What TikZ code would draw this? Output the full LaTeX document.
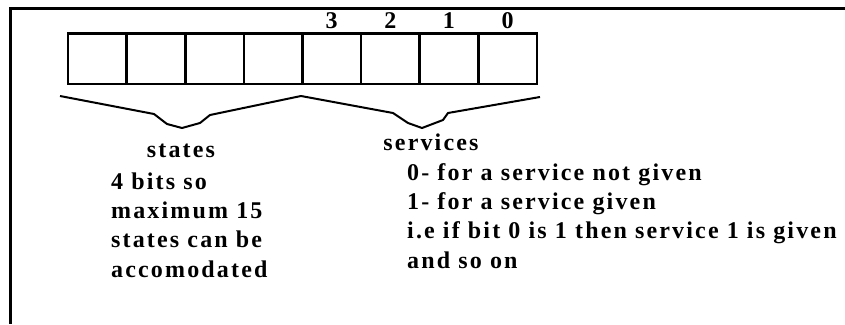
\documentclass[tikz,border=0pt]{standalone}
\usepackage{fontspec}
\setmainfont{Liberation Serif}[LetterSpace=9]
\usetikzlibrary{positioning}

\begin{document}
\begin{tikzpicture}[x=1pt,y=-1pt,node distance=58.6pt,
                    font=\fontsize{24}{29.3}\selectfont\bfseries,
                    bit/.style={draw,line width=2.6pt,minimum width=58.6pt,
                                minimum height=50.5pt,inner sep=0pt,outer sep=0pt},
                    brace/.style={line width=2pt,line join=round}]
  \useasboundingbox (0,0) rectangle (845,324);
  \draw[line width=3pt] (845,8) -- (10,8) -- (10,324);
  % the eight bits
  \node[bit] (b7) at (97.3,58.75) {};
  \node[bit] (b6) [right of=b7] {};
  \node[bit] (b5) [right of=b6] {};
  \node[bit] (b4) [right of=b5] {};
  \node[bit] (b3) [right of=b4] {};
  \node[bit] (b2) [right of=b3] {};
  \node[bit] (b1) [right of=b2] {};
  \node[bit] (b0) [right of=b1] {};
  \node (n3) [above=1.5pt of b3] {3};
  \node (n2) [above=1.5pt of b2] {2};
  \node (n1) [above=1.5pt of b1] {1};
  \node (n0) [above=1.5pt of b0] {0};
  % hand drawn braces
  \draw[brace] (60,96) -- (154,114) -- (167,124) -- (182,128) -- (200,123)
               -- (210,115) -- (301,96);
  \draw[brace] (301,96) -- (393,113) -- (408,123) -- (422,128) -- (443,120)
               -- (448,113) -- (540,97);
  \node[anchor=base] (states) at (181,157) {states};
  \node[anchor=base] (services) at (431,150) {services};
  \node[anchor=base west,align=left,inner sep=0pt] (statenote) at (111,277)
    {4 bits so\\maximum 15\\states can be\\accomodated};
  \node[anchor=base west,align=left,inner sep=0pt] (servnote) at (407,268)
    {0- for a service not given\\1- for a service given\\i.e if bit 0 is 1 then service 1 is given\\and so on};
\end{tikzpicture}
\end{document}
